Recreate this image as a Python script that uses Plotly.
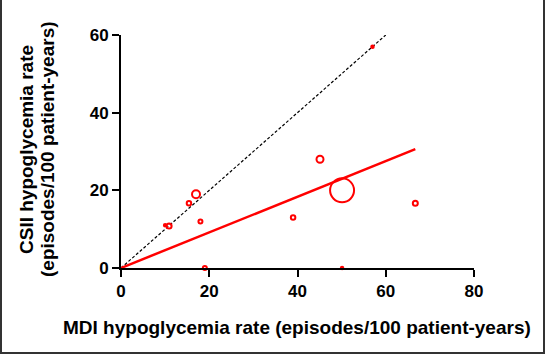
import plotly.graph_objects as go

# Data
mdi_rate = [57.0, 45.1, 50.1, 66.7, 39.0, 17.0, 15.4, 18.0, 10.9, 10.0, 19.0, 50.1]
csii_rate = [57.0, 28.0, 20.0, 16.7, 13.0, 19.0, 16.7, 12.0, 10.8, 11.0, 0.0, 0.0]
study_weight = [2.5, 7, 24, 5, 4.5, 8, 4.5, 4, 5, 2.5, 4, 2.5]  # relative bubble weight

identity_x = [0, 60]
identity_y = [0, 60]
fit_x = [0, 66.7]
fit_y = [0, 30.6]

x_ticks = [0, 20, 40, 60, 80]
y_ticks = [0, 20, 40, 60]

RED = "#ff0000"
FONT = "Arial, 'Liberation Sans', sans-serif"

symbols = ["circle" if w <= 2.5 else "circle-open" for w in study_weight]

fig = go.Figure()
fig.add_trace(go.Scatter(
    x=identity_x, y=identity_y, mode="lines",
    line=dict(color="black", width=1.2, dash="3px,2px"),
    hoverinfo="skip", showlegend=False, cliponaxis=False))
fig.add_trace(go.Scatter(
    x=fit_x, y=fit_y, mode="lines",
    line=dict(color=RED, width=2.5),
    hoverinfo="skip", showlegend=False, cliponaxis=False))
fig.add_trace(go.Scatter(
    x=mdi_rate, y=csii_rate, mode="markers",
    marker=dict(symbol=symbols, size=study_weight, color=RED, opacity=1,
                line=dict(color=RED, width=2)),
    showlegend=False, cliponaxis=False))

axis_common = dict(
    showgrid=False, zeroline=False, showline=True, automargin=False,
    linecolor="black", linewidth=2,
    ticks="outside", ticklen=7, tickwidth=2, tickcolor="black",
    tickfont=dict(family=FONT, size=17, color="black", weight="bold"),
)

# plot area in pixels: x 121..474, y 35..268
PL, PR, PT, PB = 121, 474, 35, 268
W, H = PR - PL, PB - PT

def px_x(p):
    return (p - PL) / W

def px_y(p):
    return (PB - p) / H

title_font = dict(family=FONT, size=19, color="black", weight="bold")
frame_line = dict(color="#333333", width=2)

fig.update_layout(
    template="none",
    width=545, height=354,
    margin=dict(l=PL, r=545 - PR, t=PT, b=354 - PB, pad=0, autoexpand=False),
    paper_bgcolor="white", plot_bgcolor="white",
    xaxis=dict(range=[0, 80], tickvals=x_ticks, **axis_common),
    yaxis=dict(range=[0, 60], tickvals=y_ticks, **axis_common),
    annotations=[
        dict(text="MDI hypoglycemia rate (episodes/100 patient-years)",
             xref="paper", yref="paper", x=px_x(297), y=px_y(328),
             xanchor="center", yanchor="middle", showarrow=False,
             font=title_font),
        dict(text="CSII hypoglycemia rate",
             xref="paper", yref="paper", x=px_x(26), y=px_y(150),
             xanchor="center", yanchor="middle", showarrow=False,
             textangle=-90, font=title_font),
        dict(text="(episodes/100 patient-years)",
             xref="paper", yref="paper", x=px_x(47), y=px_y(149),
             xanchor="center", yanchor="middle", showarrow=False,
             textangle=-90, font=title_font),
    ],
    shapes=[
        dict(type="line", xref="paper", yref="paper",
             x0=px_x(1), x1=px_x(1), y0=px_y(0), y1=px_y(354), line=frame_line),
        dict(type="line", xref="paper", yref="paper",
             x0=px_x(544), x1=px_x(544), y0=px_y(0), y1=px_y(354), line=frame_line),
        dict(type="line", xref="paper", yref="paper",
             x0=px_x(0), x1=px_x(545), y0=px_y(353), y1=px_y(353), line=frame_line),
    ],
)

fig.write_html(
    "out.html",
    config={"displayModeBar": False},
    post_script="document.body.style.margin='0';document.body.style.overflow='hidden';",
)
